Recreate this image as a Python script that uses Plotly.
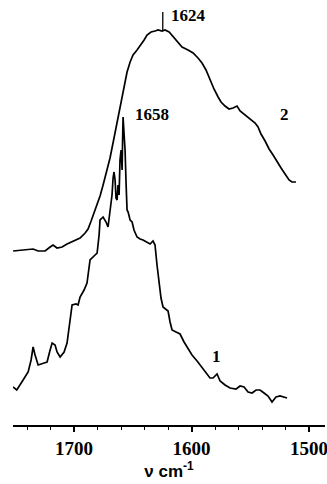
import plotly.graph_objects as go

# Curve 1 (lower spectrum): wavenumber (cm-1) and absorbance (a.u., offset)
wn1 = [1752, 1748.8, 1743.4, 1739.1, 1736.6, 1734.9, 1733.2, 1730.6, 1725.5, 1723,
       1720.4, 1718.7, 1716.2, 1714.5, 1711.9, 1708.5, 1706, 1703.4, 1701.7, 1698.3,
       1696.6, 1694.9, 1691.5, 1689, 1687.2, 1686.4, 1683, 1680.4, 1678.7, 1677.9,
       1675.3, 1672.8, 1671.1, 1669.4, 1667.7, 1666.8, 1666, 1665.1, 1664.3, 1663.4,
       1662.6, 1661.7, 1660.9, 1660, 1659.1, 1658.7, 1658.3, 1657.4, 1656.6, 1655.7,
       1654.9, 1654, 1652.3, 1650.6, 1649, 1646.4, 1643.8, 1641.3, 1637.9, 1635.3,
       1632.8, 1631.1, 1629.4, 1627.7, 1626, 1624.3, 1621.7, 1620, 1618.3, 1616.6,
       1613.2, 1609.8, 1606.4, 1603.8, 1599.6, 1595.3, 1590.2, 1586.8, 1584.3, 1581.7,
       1578.3, 1575.7, 1571.5, 1567.2, 1562.1, 1558.7, 1555.3, 1551.9, 1548.5, 1545.1,
       1541.7, 1538.3, 1534.9, 1531.5, 1528.1, 1524.7, 1521.3, 1518.7]
abs1 = [0.38, 0.35, 0.45, 0.53, 0.65, 0.78, 0.70, 0.60, 0.62, 0.63,
        0.75, 0.82, 0.80, 0.73, 0.68, 0.73, 0.82, 1.05, 1.20, 1.21,
        1.20, 1.28, 1.35, 1.42, 1.55, 1.65, 1.69, 1.72, 1.90, 2.05,
        2.08, 2.03, 1.98, 2.15, 2.30, 2.47, 2.53, 2.45, 2.27, 2.25,
        2.40, 2.30, 2.65, 2.75, 2.55, 2.85, 3.08, 2.90, 2.75, 2.40,
        2.15, 2.13, 2.05, 2.03, 1.95, 1.88, 1.86, 1.85, 1.83, 1.81,
        1.84, 1.80, 1.60, 1.40, 1.27, 1.18, 1.16, 1.14, 1.03, 0.95,
        0.93, 0.91, 0.83, 0.78, 0.70, 0.64, 0.56, 0.51, 0.47, 0.47,
        0.51, 0.44, 0.40, 0.37, 0.36, 0.39, 0.38, 0.33, 0.32, 0.35,
        0.35, 0.32, 0.29, 0.23, 0.28, 0.29, 0.28, 0.27]

# Curve 2 (upper spectrum)
wn2 = [1751.9, 1741.7, 1734.9, 1730.6, 1724.7, 1720.4, 1717.9, 1714.5, 1710.2, 1706,
       1700.9, 1694.9, 1690.6, 1688.1, 1685.5, 1683, 1680.4, 1677.9, 1675.3, 1671.9,
       1669.4, 1666, 1662.6, 1660, 1658.3, 1656.6, 1654.9, 1652.3, 1649.8, 1646.4,
       1643.8, 1640.4, 1637.9, 1634.5, 1631.1, 1628.5, 1625.1, 1622.6, 1619.1, 1615.7,
       1612.3, 1608.1, 1603, 1598.7, 1594.5, 1591.1, 1587.7, 1584.3, 1580.9, 1577.4,
       1574.9, 1571.5, 1568.1, 1564.7, 1561.3, 1558.7, 1554.5, 1550.2, 1545.9, 1543.4,
       1540.9, 1537.4, 1534, 1530.6, 1527.2, 1523.8, 1520.4, 1517, 1514.5, 1511.1]
abs2 = [1.74, 1.75, 1.76, 1.74, 1.74, 1.78, 1.80, 1.77, 1.78, 1.81,
        1.84, 1.87, 1.92, 1.96, 2.04, 2.12, 2.21, 2.29, 2.40, 2.55,
        2.67, 2.87, 3.07, 3.25, 3.35, 3.45, 3.53, 3.63, 3.70, 3.75,
        3.79, 3.85, 3.90, 3.93, 3.94, 3.95, 3.94, 3.95, 3.93, 3.88,
        3.83, 3.78, 3.75, 3.72, 3.67, 3.62, 3.55, 3.45, 3.36, 3.28,
        3.23, 3.19, 3.16, 3.17, 3.19, 3.14, 3.10, 3.06, 3.02, 2.98,
        2.91, 2.84, 2.76, 2.70, 2.63, 2.57, 2.51, 2.45, 2.43, 2.43]

tick_vals = [1700, 1600, 1500]
tick_text = ["1700", "1600", "1500"]

peak_labels = ["1624", "1658"]
curve_labels = ["1", "2"]

fig = go.Figure()
for wn, a in [(wn1, abs1), (wn2, abs2)]:
    fig.add_trace(go.Scatter(x=wn, y=a, mode="lines",
                             line=dict(color="black", width=1.7),
                             showlegend=False, hoverinfo="skip"))

# peak marker for 1624
fig.add_shape(type="line", x0=1624.5, x1=1624.5, y0=3.95, y1=4.13,
              line=dict(color="black", width=1.3))

serif = dict(family="Liberation Serif", size=17, color="black", weight="bold")
fig.add_annotation(x=1603, y=4.10, text=peak_labels[0], showarrow=False, font=serif)
fig.add_annotation(x=1633.5, y=3.11, text=peak_labels[1], showarrow=False, font=serif)
fig.add_annotation(x=1579, y=0.69, text=curve_labels[0], showarrow=False, font=serif)
fig.add_annotation(x=1521, y=3.11, text=curve_labels[1], showarrow=False, font=serif)

fig.update_layout(
    width=327, height=484,
    margin=dict(l=13, r=2, t=0, b=59, autoexpand=False),
    paper_bgcolor="white", plot_bgcolor="white",
    xaxis=dict(range=[1752, 1486.4], showline=True, linecolor="black", linewidth=2,
               automargin=False, ticklabeloverflow="allow",
               ticks="outside", ticklen=5, tickwidth=1.5, tickcolor="black",
               tickvals=tick_vals, ticktext=tick_text, showgrid=False, zeroline=False,
               tickfont=dict(family="Liberation Serif", size=19, color="black", weight="bold"),
               minor=dict(dtick=20, ticks="outside", ticklen=3, tickwidth=1, tickcolor="black",
                          showgrid=False),
               title=dict(text="ν cm<sup>-1</sup>", standoff=4,
                          font=dict(family="Liberation Sans", size=17, color="black", weight="bold"))),
    yaxis=dict(range=[0, 4.25], visible=False, automargin=False),
)

fig.write_html("out.html", config={"displayModeBar": False},
               post_script="document.body.style.margin='0';")
